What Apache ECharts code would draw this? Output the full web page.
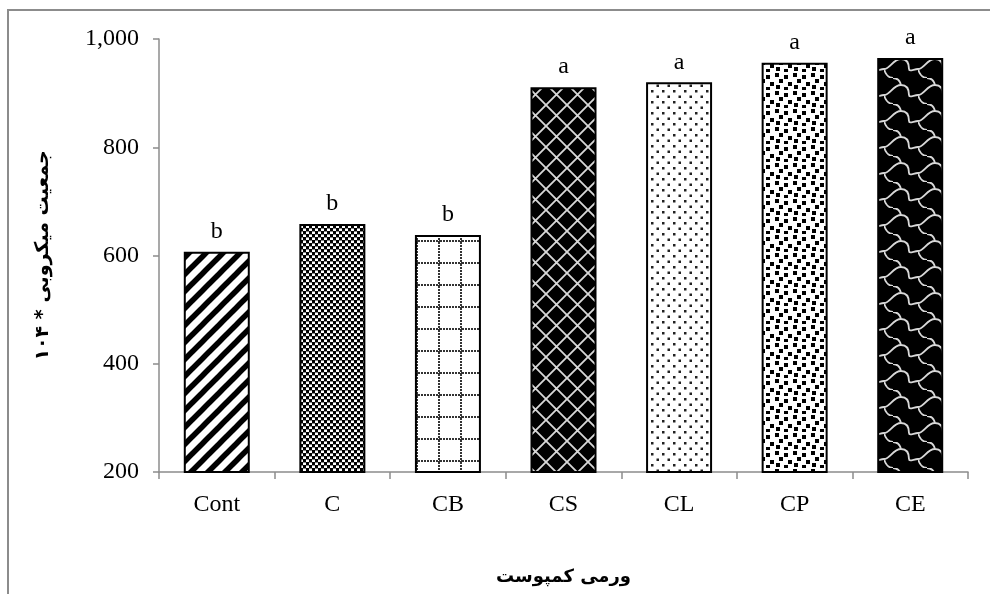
<!DOCTYPE html>
<html>
<head>
<meta charset="utf-8">
<script src="https://cdn.jsdelivr.net/npm/echarts@6/dist/echarts.min.js"></script>
<style>
  html, body { margin: 0; padding: 0; background: #fff; }
  #chart { width: 990px; height: 594px; }
</style>
</head>
<body>
<div id="chart"></div>
<script>
// Treatments and microbial population (x10^4)
const categories = ['Cont', 'C', 'CB', 'CS', 'CL', 'CP', 'CE'];
const population = [607, 658, 638, 911, 920, 956, 965];
const groupLetters = ['b', 'b', 'b', 'a', 'a', 'a', 'a'];
const yMin = 200, yMax = 1000, yStep = 200;

// --- fill textures drawn on small canvases ---
function tile(w, h, bg, draw) {
  const c = document.createElement('canvas');
  c.width = w; c.height = h;
  const g = c.getContext('2d');
  g.fillStyle = bg; g.fillRect(0, 0, w, h);
  draw(g, w, h);
  return { image: c, repeat: 'repeat' };
}

// wide diagonal stripes
const stripes = tile(17, 17, '#fff', (g, w, h) => {
  g.strokeStyle = '#000'; g.lineWidth = 5.5;
  for (let k = -1; k <= 1; k++) {
    g.beginPath(); g.moveTo(k * w - 3, h + 3); g.lineTo(k * w + w + 3, -3); g.stroke();
  }
});

// small checkerboard
const checker = tile(6, 6, '#fff', (g) => {
  g.fillStyle = '#000';
  g.fillRect(0, 0, 3, 3); g.fillRect(3, 3, 3, 3);
  g.fillStyle = '#888';
  g.fillRect(3, 0, 3, 1); g.fillRect(0, 3, 3, 1);
});

// dotted grid
const dottedGrid = tile(22, 22, '#fff', (g, w, h) => {
  g.fillStyle = '#333';
  for (let i = 0; i < w; i += 3) g.fillRect(i, 20, 2, 2);
  for (let j = 0; j < h; j += 3) g.fillRect(20, j, 2, 2);
});

// dark diamond lattice
const lattice = tile(21, 21, '#000', (g, w, h) => {
  g.strokeStyle = '#d8d8d8'; g.lineWidth = 1.8;
  g.beginPath();
  g.moveTo(0, 0); g.lineTo(w, h);
  g.moveTo(w, 0); g.lineTo(0, h);
  g.stroke();
});

// sparse dots
const sparseDots = tile(11, 11, '#fff', (g) => {
  g.fillStyle = '#222';
  g.fillRect(2, 2, 2.5, 2.5);
  g.fillRect(7.5, 7.5, 2.5, 2.5);
});

// confetti squares
const confetti = tile(18, 18, '#fff', (g) => {
  g.fillStyle = '#000';
  [[1, 1], [10, 3], [5, 7], [14, 10], [2, 13], [10, 15]].forEach(p => g.fillRect(p[0], p[1], 4, 4));
});

// dark shingles
const shingle = tile(34, 26, '#000', (g, w, h) => {
  g.strokeStyle = '#d8d8d8'; g.lineWidth = 1.8;
  g.beginPath();
  g.moveTo(0, 17);
  g.bezierCurveTo(6, 17, 9, 7, 17, 7);
  g.bezierCurveTo(24, 7, 25, 13, 25, 17);
  g.bezierCurveTo(25, 20, 30, 17, 34, 17);
  g.moveTo(17, 7);
  g.bezierCurveTo(16, 3, 13, 0, 9, 0);
  g.moveTo(9, 26);
  g.bezierCurveTo(4, 26, 1, 21, 0, 17);
  g.stroke();
});

const fills = [stripes, checker, dottedGrid, lattice, sparseDots, confetti, shingle];

const chart = echarts.init(document.getElementById('chart'), null, { renderer: 'canvas' });

const serif = 'Liberation Serif';
const axisGray = '#8c8c8c';

chart.setOption({
  backgroundColor: '#fff',
  animation: false,
  graphic: [{
    type: 'rect',
    shape: { x: 8, y: 10, width: 1100, height: 1000 },
    style: { fill: 'none', stroke: axisGray, lineWidth: 2 },
    silent: true
  }],
  grid: { left: 159, right: 22, top: 39, bottom: 122 },
  xAxis: {
    type: 'category',
    data: categories,
    boundaryGap: true,
    axisLine: { lineStyle: { color: axisGray, width: 1.5 } },
    axisTick: { show: true, interval: 0, length: 7, lineStyle: { color: axisGray, width: 1.5 } },
    axisLabel: { color: '#000', fontFamily: serif, fontSize: 24, margin: 21 },
    name: 'ورمی کمپوست',
    nameLocation: 'middle',
    nameGap: 96,
    nameTextStyle: { color: '#000', fontFamily: 'DejaVu Sans', fontWeight: 'bold', fontSize: 18 }
  },
  yAxis: {
    type: 'value',
    min: yMin, max: yMax, interval: yStep,
    splitLine: { show: false },
    axisLine: { show: true, lineStyle: { color: axisGray, width: 1.5 } },
    axisTick: { show: true, length: 6, lineStyle: { color: axisGray, width: 1.5 } },
    axisLabel: {
      color: '#000', fontFamily: serif, fontSize: 24, margin: 20,
      formatter: v => v.toLocaleString('en-US')
    },
    name: 'جمعیت میکروبی * ۱۰۴',
    nameLocation: 'middle',
    nameGap: 106,
    nameRotate: 90,
    nameTextStyle: { color: '#000', fontFamily: 'DejaVu Sans', fontWeight: 'bold', fontSize: 19 }
  },
  series: [{
    type: 'bar',
    barWidth: 66,
    data: population.map((v, i) => ({
      value: v,
      itemStyle: { color: fills[i] },
      label: { formatter: groupLetters[i] }
    })),
    itemStyle: { borderColor: '#000', borderWidth: 2 },
    label: {
      show: true, position: 'top', distance: 8,
      color: '#000', fontFamily: serif, fontSize: 24
    }
  }]
});
</script>
</body>
</html>
